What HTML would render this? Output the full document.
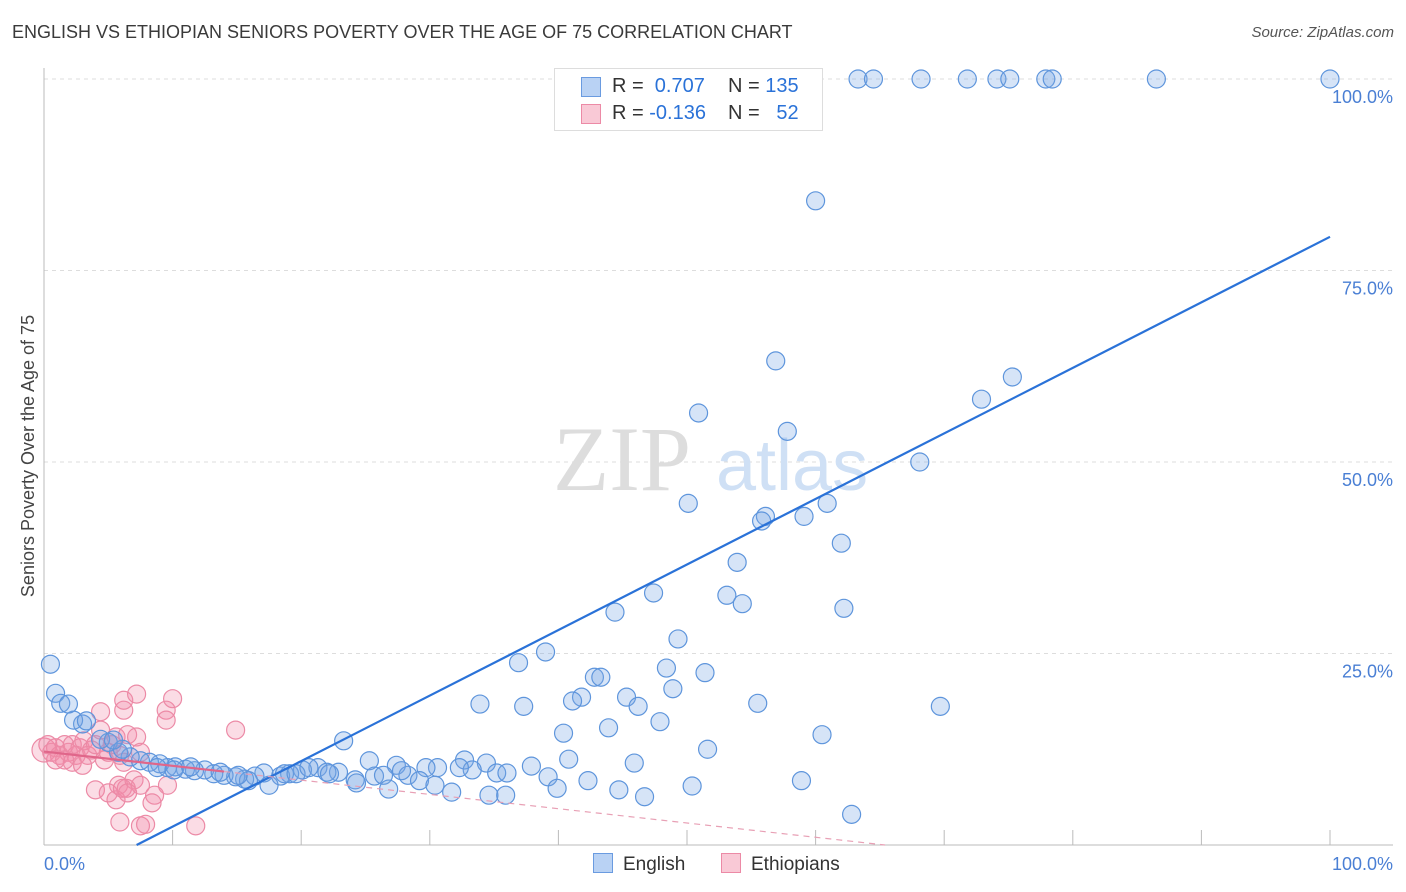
<!DOCTYPE html>
<html><head><meta charset="utf-8"><style>
body{margin:0;background:#fff;font-family:"Liberation Sans",sans-serif;}
#wrap{position:relative;width:1406px;height:892px;overflow:hidden;}
.t{position:absolute;white-space:nowrap;}
</style></head><body>
<div id="wrap">
<div class="t" style="left:12px;top:22px;font-size:18px;color:#3a3a3a;">ENGLISH VS ETHIOPIAN SENIORS POVERTY OVER THE AGE OF 75 CORRELATION CHART</div>
<div class="t" style="right:12px;top:24px;font-size:15px;color:#555;font-style:italic;">Source: ZipAtlas.com</div>
<svg id="svg" width="1406" height="892" style="position:absolute;left:0;top:0"></svg>
</div>
<script>
const blueX=[58.5,63.3,64.5,68.2,71.8,74.1,75.1,77.9,78.4,86.5,100,60.0,56.9,75.3,72.9,50.9,57.8,68.1,50.1,60.9,56.1,55.8,59.1,53.9,62.0,47.4,53.1,54.3,44.4,62.2,49.3,39.0,36.9,48.4,51.4,42.8,43.3,48.9,41.8,45.3,41.1,33.9,37.3,46.2,55.5,69.7,40.4,43.9,47.9,60.5,23.3,51.6,32.7,25.3,27.4,40.8,34.4,45.9,37.9,33.3,30.6,32.3,29.7,28.3,35.2,36.0,39.2,42.3,25.7,24.2,26.4,29.2,27.8,30.4,31.7,34.6,35.9,39.9,44.7,46.7,50.4,58.9,62.8,26.8,24.3,22.9,21.3,22.0,20.1,19.1,18.4,17.1,16.4,15.6,14.9,14.0,13.2,12.5,11.7,11.0,10.2,9.6,9.0,8.2,7.5,6.7,5.8,5.0,4.4,3.0,2.3,3.3,0.5,0.9,1.3,1.9,17.5,15.9,15.1,10.1,13.7,11.4,8.8,6.1,5.4,18.7,19.6,20.6,22.2];
const blueY=[100,100,100,100,100,100,100,100,100,100,100,84.1,63.2,61.1,58.2,56.4,54.0,50.0,44.6,44.6,42.9,42.3,42.9,36.9,39.4,32.9,32.6,31.5,30.4,30.9,26.9,25.2,23.8,23.1,22.5,21.9,21.9,20.4,19.3,19.3,18.8,18.4,18.1,18.1,18.5,18.1,14.6,15.3,16.1,14.4,13.6,12.5,11.1,11.0,10.4,11.2,10.7,10.7,10.3,9.8,10.1,10.1,10.1,9.1,9.4,9.4,8.9,8.4,9.0,8.5,9.1,8.4,9.7,7.8,6.9,6.5,6.5,7.4,7.2,6.3,7.7,8.4,4.0,7.3,8.1,9.5,10.1,9.5,9.8,9.3,9.0,9.4,9.0,8.6,8.9,9.1,9.3,9.8,9.7,9.9,10.2,10.1,10.6,10.8,11.0,11.5,12.1,13.4,13.8,15.8,16.3,16.2,23.6,19.8,18.5,18.4,7.8,8.4,9.1,9.8,9.5,10.2,10.1,12.5,13.7,9.3,9.3,10.1,9.3];
const pinkX=[0,0.3,0.6,0.9,1.2,1.6,1.9,2.2,2.5,2.8,3.1,3.4,3.7,4.0,4.4,4.7,5.0,5.3,5.6,5.9,6.2,6.5,4.4,6.2,7.2,7.5,5.8,6.4,7.0,4.0,5.0,5.6,6.1,7.5,6.5,8.6,8.4,9.6,5.9,7.5,7.9,11.8,6.2,7.2,9.5,10.0,9.5,14.9,2.2,3.0,1.6,0.9];
const pinkY=[12.4,13.1,12.1,12.7,11.7,13.1,12.1,13.1,11.7,12.7,13.6,11.7,12.4,13.1,15.0,11.1,12.1,13.1,14.1,11.7,10.8,14.4,17.4,17.6,14.1,12.1,7.8,7.4,8.5,7.2,6.8,5.9,7.4,7.8,6.8,6.5,5.5,7.8,3.0,2.5,2.7,2.5,18.9,19.7,17.6,19.1,16.3,15.0,10.8,10.4,11.1,11.1];
const blueTrend=[7.2,0,100,79.4];
const pinkTrend=[0,12.2,65.4,0];
const yTicks=[25,50,75,100];
const xTickLabels=["0.0%","100.0%"];

const X0=44,X1=1330,Y0=845,Y1=79;
const sx=v=>X0+(X1-X0)*v/100, sy=v=>Y0-(Y0-Y1)*v/100;
const svg=document.getElementById('svg'),NS='http://www.w3.org/2000/svg';
function mk(tag,at,parent){const e=document.createElementNS(NS,tag);for(const k in at)e.setAttribute(k,at[k]);(parent||svg).appendChild(e);return e;}
// gridlines
yTicks.forEach(v=>{
 const g=mk('line',{x1:X0,x2:1393,y1:sy(v),y2:sy(v),stroke:'#ddd','stroke-dasharray':'4,4'});
 
 
 const t=mk('text',{x:1393,y:sy(v)+24,'text-anchor':'end','font-size':18,fill:'#4a7fd4','font-family':'Liberation Sans, sans-serif'});
 t.textContent=v.toFixed(1)+'%';
 
 
});
const ax=mk('line',{x1:X0,x2:X0,y1:68,y2:Y0,stroke:'#bbb'});


const bx=mk('line',{x1:X0,x2:1393,y1:Y0,y2:Y0,stroke:'#bbb'});


for(let i=1;i<=10;i++){const tk=mk('line',{x1:sx(i*10),x2:sx(i*10),y1:830,y2:Y0,stroke:'#bbb'});
 
 }
[[0,'start',44],[100,'end',1393]].forEach((a,i)=>{const t=mk('text',{x:a[2],y:870,'text-anchor':a[1],'font-size':18,fill:'#4a7fd4','font-family':'Liberation Sans, sans-serif'});t.textContent=xTickLabels[i];
 
 });
const yt=mk('text',{x:34,y:456,'text-anchor':'middle','font-size':18,fill:'#444',transform:'rotate(-90 34 456)','font-family':'Liberation Sans, sans-serif'});
yt.textContent='Seniors Poverty Over the Age of 75';


// watermark
const wm=mk('text',{x:553,y:490,'font-size':92,fill:'#ddd','font-family':'Liberation Serif, serif'});
wm.textContent='ZIP';


const wm2=mk('text',{x:716,y:490,'font-size':72,fill:'#cfe0f5','font-family':'Liberation Sans, sans-serif'});
wm2.textContent='atlas';


// points
pinkX.forEach((x,i)=>{const c=mk('circle',{cx:sx(x),cy:sy(pinkY[i]),r:i===0?12:9,fill:'rgba(242,140,170,0.3)',stroke:'#ec8aa6','stroke-width':1.2});
 
 });
blueX.forEach((x,i)=>{const c=mk('circle',{cx:sx(x),cy:sy(blueY[i]),r:9,fill:'rgba(120,165,230,0.3)',stroke:'#5e95dc','stroke-width':1.2});
 
 });
// trends
const bl=mk('line',{x1:sx(blueTrend[0]),y1:sy(blueTrend[1]),x2:sx(blueTrend[2]),y2:sy(blueTrend[3]),stroke:'#2a72d8','stroke-width':2.2});


const pm=(pinkTrend[3]-pinkTrend[1])/(pinkTrend[2]-pinkTrend[0]);
const split=14;
const pl=mk('line',{x1:sx(pinkTrend[0]),y1:sy(pinkTrend[1]),x2:sx(split),y2:sy(pinkTrend[1]+pm*split),stroke:'#e0668a','stroke-width':2.2});


const pd=mk('line',{x1:sx(split),y1:sy(pinkTrend[1]+pm*split),x2:sx(pinkTrend[2]),y2:sy(pinkTrend[3]),stroke:'#e8a0b5','stroke-width':1.2,'stroke-dasharray':'6,5'});


</script>
<div class="t" style="left:554px;top:68px;width:267px;height:61px;border:1px solid #ddd;background:#fff;font-size:20px;">
 <div style="position:absolute;left:26px;top:8px;width:18px;height:18px;background:#b9d2f4;border:1px solid #6a9be0"></div>
 <div style="position:absolute;left:57px;top:6px;color:#333">R = <span style="color:#2a72d8">&nbsp;0.707</span></div>
 <div style="position:absolute;left:173px;top:6px;color:#333">N = <span style="color:#2a72d8">135</span></div>
 <div style="position:absolute;left:26px;top:35px;width:18px;height:18px;background:#f9c9d6;border:1px solid #ec8aa6"></div>
 <div style="position:absolute;left:57px;top:33px;color:#333">R = <span style="color:#2a72d8">-0.136</span></div>
 <div style="position:absolute;left:173px;top:33px;color:#333">N = <span style="color:#2a72d8">&nbsp;&nbsp;52</span></div>
</div>
<div class="t" style="left:593px;top:853px;font-size:19px;color:#333"><span style="display:inline-block;width:18px;height:18px;background:#b9d2f4;border:1px solid #6a9be0;vertical-align:-3px;margin-right:10px"></span>English</div>
<div class="t" style="left:721px;top:853px;font-size:19px;color:#333"><span style="display:inline-block;width:18px;height:18px;background:#f9c9d6;border:1px solid #ec8aa6;vertical-align:-3px;margin-right:10px"></span>Ethiopians</div>
</body></html>
